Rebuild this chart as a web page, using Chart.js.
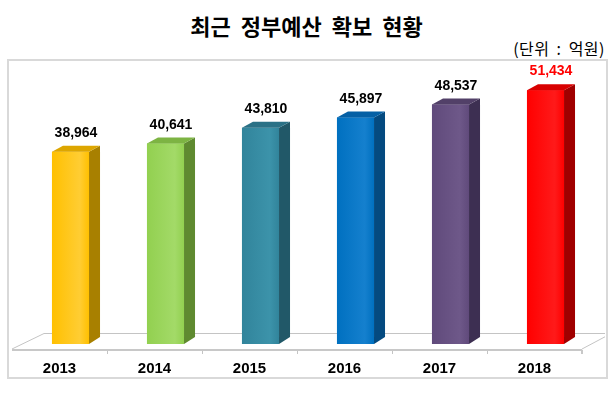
<!DOCTYPE html>
<html>
<head>
<meta charset="utf-8">
<script src="https://cdn.jsdelivr.net/npm/chart.js@4"></script>
<style>
  body { margin: 0; background: #fff; width: 613px; height: 394px; position: relative; overflow: hidden; }
  #title { position: absolute; left: 0; width: 613px; top: 9px; text-align: center; font: 700 22px "Noto Sans CJK KR"; color: #000; word-spacing: 5px; }
  #unit { position: absolute; right: 8px; top: 36px; font: 400 16px "Noto Sans CJK KR"; color: #000; word-spacing: 3px; letter-spacing: 0.5px; }
  #box { position: absolute; left: 7px; top: 59px; width: 597px; height: 316px; border: 2px solid #d9d9d9; }
  #wrap { position: absolute; left: 0; top: 0; width: 613px; height: 394px; }
</style>
</head>
<body>
<div id="title">최근 정부예산 확보 현황</div>
<div id="unit">(단위 : 억원)</div>
<div id="box"></div>
<div id="wrap"><canvas id="myChart"></canvas></div>
<script>
  var years = ["2013", "2014", "2015", "2016", "2017", "2018"];
  var budget = [38964, 40641, 43810, 45897, 48537, 51434];
  var frontColors = ["#FFC000", "#92D050", "#31849B", "#0070C0", "#604A7B", "#FF0000"];
  var lightColors = ["#FFCD33", "#A3DA68", "#3C93AA", "#1580CE", "#6E5889", "#FF1A1A"];
  var sideColors = ["#A88000", "#5F8A30", "#215868", "#044A80", "#3D2F52", "#A00000"];
  var topColors = ["#DDA600", "#7DB443", "#2A7186", "#0560A5", "#524068", "#D80000"];
  var labelColors = ["#000", "#000", "#000", "#000", "#000", "#FF0000"];

  var DX = 11, DY = 6;

  // 3d floor, bar sides/tops and value labels
  var bars3d = {
    id: "bars3d",
    beforeDatasetsDraw: function (chart) {
      var ctx = chart.ctx, a = chart.chartArea;
      var step = (a.right - a.left) / years.length;
      var fl = a.left - DX, fr = a.right - DX, fy = a.bottom + 5, by = a.bottom - 11;
      ctx.save();
      ctx.beginPath();
      ctx.rect(0, 0, 605, 394);
      ctx.clip();
      ctx.strokeStyle = "#c4c4c4";
      ctx.lineWidth = 1;
      ctx.beginPath();
      ctx.moveTo(fl, fy); ctx.lineTo(fl + 32, by + 0.5); ctx.lineTo(613, by + 0.5);
      ctx.moveTo(fr, fy); ctx.lineTo(fr + 32, by - 1);
      for (var i = 1; i < years.length; i++) {
        var tx = Math.round(fl + i * step) + 0.5;
        ctx.moveTo(tx, fy); ctx.lineTo(tx, fy + 5);
      }
      ctx.stroke();
      ctx.lineWidth = 2;
      ctx.strokeStyle = "#c8c8c8";
      ctx.beginPath();
      ctx.moveTo(fl, fy + 1); ctx.lineTo(fr, fy + 1);
      ctx.moveTo(fr, fy + 1); ctx.lineTo(fr, fy + 5);
      ctx.stroke();
      ctx.restore();
    },
    afterDatasetsDraw: function (chart) {
      var ctx = chart.ctx;
      var meta = chart.getDatasetMeta(0);
      ctx.save();
      meta.data.forEach(function (bar, i) {
        var l = bar.x - bar.width / 2, r = bar.x + bar.width / 2;
        var t = bar.y, b = bar.base;
        var g = ctx.createLinearGradient(l, 0, r, 0);
        g.addColorStop(0, frontColors[i]);
        g.addColorStop(0.75, lightColors[i]);
        g.addColorStop(1, frontColors[i]);
        ctx.fillStyle = g;
        ctx.fillRect(l, t, r - l, b - t);
        ctx.fillStyle = sideColors[i];
        ctx.beginPath();
        ctx.moveTo(r, t); ctx.lineTo(r + DX, t - DY); ctx.lineTo(r + DX, b - DY - 1); ctx.lineTo(r, b);
        ctx.closePath(); ctx.fill();
        ctx.fillStyle = topColors[i];
        ctx.beginPath();
        ctx.moveTo(l, t); ctx.lineTo(l + DX, t - DY); ctx.lineTo(r + DX, t - DY); ctx.lineTo(r, t);
        ctx.closePath(); ctx.fill();
        ctx.fillStyle = labelColors[i];
        ctx.font = "bold 14px 'Liberation Sans'";
        ctx.textAlign = "center";
        ctx.textBaseline = "alphabetic";
        ctx.fillText(budget[i].toLocaleString("en-US"), bar.x + DX / 2, t - DY - 9);
      });
      ctx.restore();
    }
  };

  new Chart("myChart", {
    type: "bar",
    data: {
      labels: years,
      datasets: [{
        data: budget,
        backgroundColor: frontColors,
        barPercentage: 0.39,
        categoryPercentage: 1
      }]
    },
    options: {
      responsive: true,
      maintainAspectRatio: false,
      animation: false,
      layout: { padding: { left: 23, right: 20, top: 48, bottom: 20 } },
      plugins: { legend: { display: false }, tooltip: { enabled: false } },
      scales: {
        x: {
          grid: { display: false },
          border: { display: false },
          afterFit: function (s) { s.height = 30; },
          ticks: { labelOffset: -11, padding: 8, color: "#000", font: { family: "Liberation Sans", size: 15, weight: "bold" } }
        },
        y: { display: false, min: 0, max: 60000 }
      }
    },
    plugins: [bars3d]
  });
</script>
</body>
</html>
